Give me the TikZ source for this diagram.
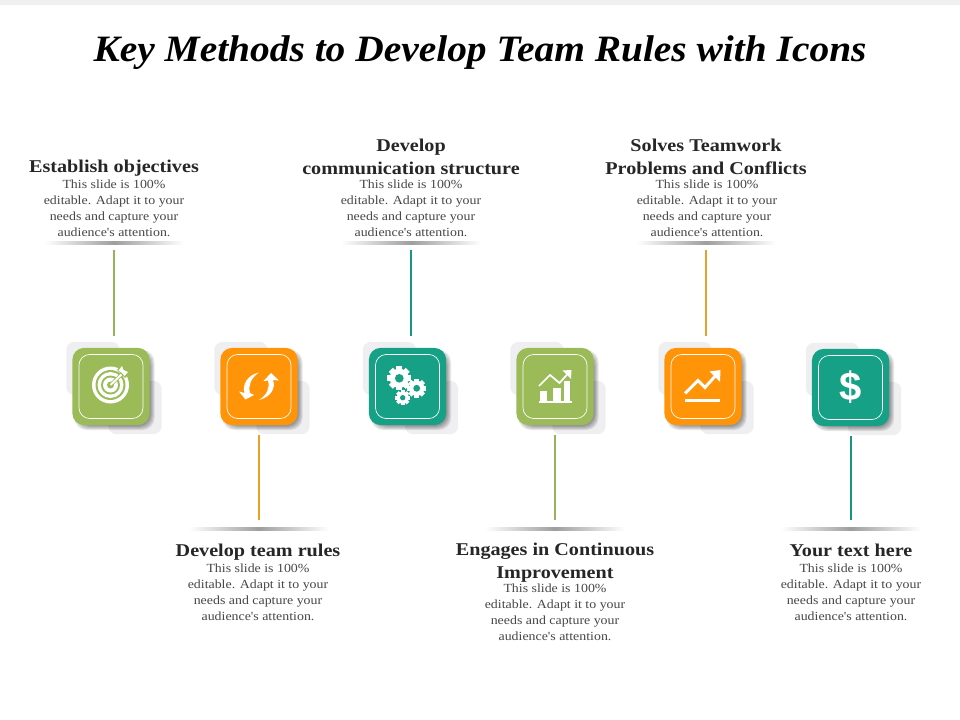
\documentclass[tikz,border=0pt]{standalone}
\usepackage{fontspec}
\setmainfont[FakeStretch=1.12,Ligatures=TeXOff]{Liberation Serif}
\newfontfamily\titlefont[FakeStretch=1.06]{Liberation Serif}
\newfontfamily\dollarfont{Liberation Sans}
\usetikzlibrary{arrows.meta}
\definecolor{cgreen}{RGB}{155,187,89}
\definecolor{corange}{RGB}{255,148,8}
\definecolor{cteal}{RGB}{22,160,133}
\definecolor{lgreen}{RGB}{150,178,90}
\definecolor{lorange}{RGB}{232,160,40}
\definecolor{lteal}{RGB}{26,150,130}
\definecolor{ghost}{RGB}{239,239,241}
\definecolor{headc}{RGB}{38,38,38}
\definecolor{bodyc}{RGB}{70,70,70}
\tikzset{
  titletext/.style={font=\titlefont\fontsize{27.9}{32}\selectfont\bfseries\itshape,text=black,inner sep=0},
  headtext/.style={font=\fontsize{13.5}{17.2}\selectfont\bfseries,text=headc,align=center,inner sep=0},
  bodytext/.style={font=\fontsize{9.3}{12}\selectfont,text=bodyc,align=center,inner sep=0},
  tile/.style={rectangle,rounded corners=9pt,minimum size=58pt,inner sep=0,fill=#1},
  softshade/.style={rectangle,rounded corners=9pt,inner sep=0,fill=black,fill opacity=.09,text opacity=0},
  frame/.style={rectangle,rounded corners=8pt,minimum size=48pt,inner sep=0,draw=white,line width=.5pt},
  ghostbox/.style={rectangle,rounded corners=6pt,minimum size=40pt,inner sep=0,fill=ghost},
  rulemark/.style={rectangle,minimum width=105pt,minimum height=1.6pt,inner sep=0,left color=white,right color=white,middle color=black!38},
  conn/.style={line width=1.5pt,#1}
}
\newcommand{\tilegroup}[4]{% name, x, y, colour
  \node[ghostbox] (#1g) at (#2-18,#3-18) {};
  \node[ghostbox] (#1h) at (#2+24,#3+21) {};
  \foreach \s in {54,55.5,57,58.5,60}{
    \fill[black,opacity=.09,rounded corners=9pt] (#2+3.5-\s/.75/2,#3+3.5-\s/.75/2) rectangle (#2+3.5+\s/.75/2,#3+3.5+\s/.75/2);
  }
  \node[tile=#4] (#1) at (#2,#3) {};
  \node[frame] (#1f) at (#2,#3) {};
}
\newcommand{\mygear}[4]{% x,y,radius,hole colour
  \begin{scope}[shift={(#1,#2)}]
    \foreach \a in {0,45,...,315}{
      \fill[white,rotate=\a] (-#3*.24,0) rectangle (#3*.24,#3*1.0);
    }
    \fill[white] (0,0) circle[radius=#3*.8];
    \fill[#4] (0,0) circle[radius=#3*.36];
  \end{scope}
}
\begin{document}
\begin{tikzpicture}[x=.75pt,y=-.75pt]
\useasboundingbox (0,0) rectangle (960,720);
\fill[black!6] (0,0) rectangle (960,5);
\node[titletext] (title) at (480,52.5) {Key Methods to Develop Team Rules with Icons};

\tilegroup{t1}{111}{386.5}{cgreen}
\tilegroup{t2}{259}{386.5}{corange}
\tilegroup{t3}{407.5}{386.5}{cteal}
\tilegroup{t4}{555}{386.5}{cgreen}
\tilegroup{t5}{703}{386.5}{corange}
\tilegroup{t6}{850.5}{387.5}{cteal}

% target icon
\fill[white] (110.5,385) circle[radius=18.5];
\fill[cgreen] (110.5,385) circle[radius=15];
\fill[white] (110.5,385) circle[radius=13];
\fill[cgreen] (110.5,385) circle[radius=9.5];
\fill[white] (110.5,385) circle[radius=7.5];
\fill[cgreen] (110.5,385) circle[radius=3.5];
\draw[cgreen,line width=2.6pt] (110.5,385) -- (124,372);
\draw[white,line width=1.5pt] (110.5,385) -- (124,372);
\fill[cgreen] (117,370) -- (122,363.5) -- (131,372) -- (125,378) -- cycle;
\fill[white] (118.5,370.5) -- (122,366) -- (123.5,370) -- (128,372) -- (124.5,376) -- (122,373) -- cycle;

% refresh icon
\fill[white] (259,372.5) .. controls (247,375) and (242,385) .. (244.5,393) -- (239,391.5) -- (245.5,399.5) -- (254,395) -- (250,393) .. controls (248,385) and (251,378) .. (259,372.5) -- cycle;
\fill[white] (259,400) .. controls (271,397) and (276,388) .. (273,380) -- (279,380.5) -- (271,373) -- (263.5,381) -- (268,380.5) .. controls (270,388) and (267,395) .. (259,400) -- cycle;

% gears icon
\mygear{399.3}{378.3}{12}{cteal}
\mygear{416.7}{388.3}{9.5}{cteal}
\mygear{402.7}{397.7}{7.5}{cteal}

% chart icon
\fill[white] (538.5,400.5) rectangle (571.5,403);
\fill[white] (540,391) rectangle (547,401);
\fill[white] (553,388) rectangle (561,401);
\fill[white] (563.5,381) rectangle (569.5,401);
\draw[white,line width=1.3pt] (539,386) -- (550,375) -- (559.5,383) -- (568,373.5);
\fill[white] (571.5,370) -- (562.5,370.5) -- (571,379) -- cycle;

% trend icon
\fill[white] (684.5,399) rectangle (720,401.8);
\draw[white,line width=2.2pt] (685,393.5) -- (698,380.5) -- (705,387.5) -- (717,374);
\fill[white] (720.5,370) -- (709.5,371.5) -- (720,382) -- cycle;

% dollar icon
\node[inner sep=0,text=white,font=\dollarfont\fontsize{30}{30}\selectfont\bfseries] (dollar) at (851,387) {\$};

% top column
\node[rulemark] (r1) at (114,243) {};
\node[rulemark] (r3) at (411,243) {};
\node[rulemark] (r5) at (706,243) {};
\node[headtext] (h1) at (114,168) {Establish objectives};
\node[headtext] (h3) at (411,156.5) {Develop\\communication structure};
\node[headtext] (h5) at (706,156.5) {Solves Teamwork\\Problems and Conflicts};
\node[bodytext] (b1) at (114,208) {This slide is 100\%\\editable. Adapt it to your\\needs and capture your\\audience's attention.};
\node[bodytext] (b3) at (411,208) {This slide is 100\%\\editable. Adapt it to your\\needs and capture your\\audience's attention.};
\node[bodytext] (b5) at (707,208) {This slide is 100\%\\editable. Adapt it to your\\needs and capture your\\audience's attention.};

% bottom column
\node[rulemark] (r2) at (259,529) {};
\node[rulemark] (r4) at (555,529) {};
\node[rulemark] (r6) at (851,529) {};
\node[headtext] (h2) at (258,552) {Develop team rules};
\node[headtext] (h4) at (555,562.5) {Engages in Continuous\\Improvement};
\node[headtext] (h6) at (851,550.5) {Your text here};
\node[bodytext] (b2) at (258,592) {This slide is 100\%\\editable. Adapt it to your\\needs and capture your\\audience's attention.};
\node[bodytext] (b4) at (555,612) {This slide is 100\%\\editable. Adapt it to your\\needs and capture your\\audience's attention.};
\node[bodytext] (b6) at (851,592) {This slide is 100\%\\editable. Adapt it to your\\needs and capture your\\audience's attention.};

% connectors
\draw[conn=lgreen,shorten <=4.5pt,shorten >=9pt] (r1) -- (r1 |- t1.north);
\draw[conn=lteal,shorten <=4.5pt,shorten >=9pt] (r3) -- (r3 |- t3.north);
\draw[conn=lorange,shorten <=4.5pt,shorten >=9pt] (r5) -- (r5 |- t5.north);
\draw[conn=lorange,shorten <=7.5pt,shorten >=6pt] (t2.south -| r2) -- (r2);
\draw[conn=lgreen,shorten <=7.5pt,shorten >=6pt] (t4.south -| r4) -- (r4);
\draw[conn=lteal,shorten <=7pt,shorten >=6pt] (t6.south -| r6) -- (r6);
\end{tikzpicture}
\end{document}
